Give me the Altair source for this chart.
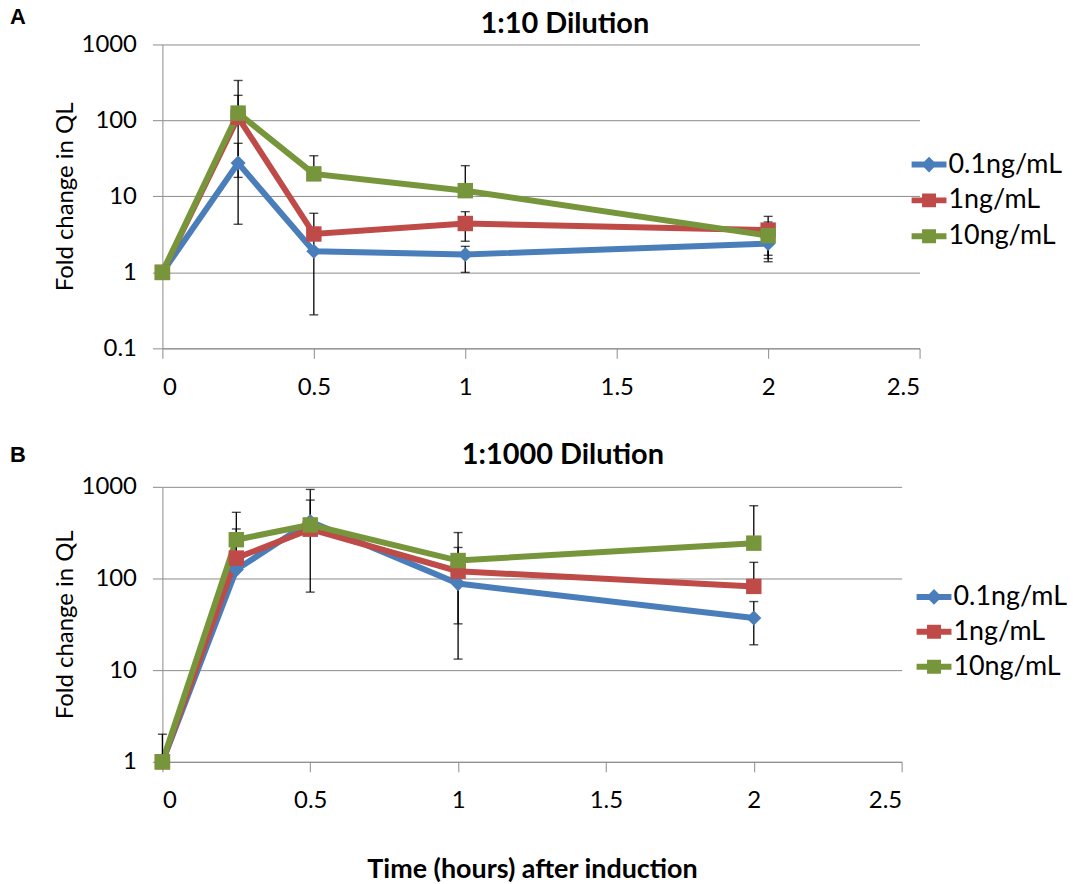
import altair as alt
import pandas as pd

series = ["0.1ng/mL", "1ng/mL", "10ng/mL"]
colors = ["#4A7EBB", "#BE4B48", "#77963C"]
times = [0, 0.25, 0.5, 1, 2]

# Panel A: 1:10 dilution
a_blue = [1, 27.5, 1.9, 1.72, 2.4]
a_red = [1, 110, 3.2, 4.4, 3.6]
a_green = [1, 125, 19.8, 11.9, 3.05]
a_blue_hi = [None, 50, 3.5, 2.2, 3.4]
a_blue_lo = [None, 4.3, 0.276, 1.0, 1.38]
a_red_hi = [None, 214, 6.0, 6.3, 5.46]
a_red_lo = [None, 17.8, None, 2.57, 1.68]
a_green_hi = [None, 336, 34.3, 25.4, 4.6]
a_green_lo = [None, None, None, None, 1.52]

# Panel B: 1:1000 dilution
b_blue = [1, 125, 418, 88, 37]
b_red = [1, 167, 345, 120, 82]
b_green = [1, 265, 384, 157, 243]
b_blue_hi = [None, None, 937, 163, 56]
b_blue_lo = [None, None, None, 13.2, 18.9]
b_red_hi = [None, 347, None, 218, 150]
b_red_lo = [None, None, None, 32, None]
b_green_hi = [2.0, 527, 717, 317, 622]
b_green_lo = [None, None, 71, None, None]

y_ticks_a = [0.1, 1, 10, 100, 1000]
y_ticks_b = [1, 10, 100, 1000]
x_ticks = [0, 0.5, 1, 1.5, 2, 2.5]

# legend symbols: a line stub with the series marker
legend_paths = [
    "M-1,-0.17H1V0.17H-1Z M0,-0.45L0.45,0L0,0.45L-0.45,0Z",
    "M-1,-0.17H1V0.17H-1Z M-0.4,-0.4H0.4V0.4H-0.4Z",
    "M-1,-0.17H1V0.17H-1Z M-0.4,-0.4H0.4V0.4H-0.4Z",
]


def build(vals, his, los):
    rows = []
    for s, v, h, l in zip(series, vals, his, los):
        for t, vv, hh, ll in zip(times, v, h, l):
            rows.append({
                "series": s, "t": t, "v": vv,
                "hi": hh, "lo": ll,
                "top": hh if hh is not None else vv,
                "bot": ll if ll is not None else vv,
            })
    return pd.DataFrame(rows)


df_a = build([a_blue, a_red, a_green], [a_blue_hi, a_red_hi, a_green_hi],
             [a_blue_lo, a_red_lo, a_green_lo])
df_b = build([b_blue, b_red, b_green], [b_blue_hi, b_red_hi, b_green_hi],
             [b_blue_lo, b_red_lo, b_green_lo])

FONT = "Lato"
GRID = "#8C8C8C"


def panel(df, ydomain, yticks, title, letter, width, height, xtitle,
          legend_x, legend_y, row_pad, title_xy, letter_xy):
    x = alt.X("t:Q", scale=alt.Scale(domain=[0, 2.5], nice=False, zero=False),
              axis=alt.Axis(values=x_ticks, format="~g", grid=False,
                            title=xtitle if xtitle else None,
                            titlePadding=44, titleFontWeight="bold",
                            titleFontSize=27, labelPadding=17))
    yax = alt.Axis(values=yticks, format="~g", grid=True,
                   title="Fold change in QL", titlePadding=4,
                   titleFontWeight="normal", labelPadding=16)
    ysc = alt.Scale(type="log", domain=ydomain, nice=False)
    y = alt.Y("v:Q", scale=ysc, axis=yax)
    base = alt.Chart(df)

    leg_opts = dict(title=None, orient="none", legendX=legend_x, legendY=legend_y,
                    symbolSize=1225, symbolStrokeWidth=0, labelFont=FONT,
                    labelFontSize=27, labelColor="black", labelOffset=2,
                    rowPadding=row_pad, symbolOpacity=1)
    color = alt.Color("series:N", scale=alt.Scale(domain=series, range=colors),
                      legend=alt.Legend(**leg_opts))
    shape = alt.Shape("series:N", scale=alt.Scale(domain=series, range=legend_paths),
                      legend=alt.Legend(**leg_opts))

    lines = base.mark_line(strokeWidth=6).encode(x=x, y=y, color=color, detail="series:N")
    rules = base.mark_rule(color="black", strokeWidth=1.3).encode(
        x=x, y=alt.Y("bot:Q", scale=ysc, axis=yax), y2="top:Q")
    cap_hi = base.transform_filter("isValid(datum.hi)").mark_tick(
        orient="horizontal", size=9, thickness=1.4, color="black").encode(
        x=x, y=alt.Y("hi:Q", scale=ysc, axis=yax))
    cap_lo = base.transform_filter("isValid(datum.lo)").mark_tick(
        orient="horizontal", size=9, thickness=1.4, color="black").encode(
        x=x, y=alt.Y("lo:Q", scale=ysc, axis=yax))
    pts_d = base.transform_filter(alt.datum.series == series[0]).mark_point(
        shape="diamond", filled=True, size=230, opacity=1).encode(x=x, y=y, color=color)
    pts_s = base.transform_filter(alt.datum.series != series[0]).mark_point(
        shape="square", filled=True, size=240, opacity=1).encode(x=x, y=y, color=color)
    # invisible layer that only supplies the legend symbols (line stub + marker)
    leg = base.mark_point(filled=True, opacity=0).encode(
        x=x, y=y, color=color, shape=shape)
    lab = alt.Chart(pd.DataFrame({"lbl": [letter]})).mark_text(
        font="Liberation Sans", fontWeight="bold", fontSize=22, color="black",
        align="left", baseline="middle").encode(
        x=alt.value(letter_xy[0]), y=alt.value(letter_xy[1]), text="lbl:N")
    ttl = alt.Chart(pd.DataFrame({"ttl": [title]})).mark_text(
        font=FONT, fontWeight="bold", fontSize=29, color="black",
        align="center", baseline="middle").encode(
        x=alt.value(title_xy[0]), y=alt.value(title_xy[1]), text="ttl:N")

    return alt.layer(leg, lines, rules, cap_hi, cap_lo, pts_d, pts_s, lab, ttl).properties(
        width=width, height=height)


pa = panel(df_a, [0.1, 1000], y_ticks_a, "1:10 Dilution", "A", 760, 305, None,
           752, 103, 5, (404, -21), (-153, -28))
pb = panel(df_b, [1, 1000], y_ticks_b, "1:1000 Dilution", "B", 742, 276,
           "Time (hours) after induction", 757, 93, 4, (402, -32), (-153, -32))

chart = alt.vconcat(pa, pb, spacing=42).resolve_scale(
    color="independent", shape="independent"
).resolve_legend(
    color="independent", shape="independent"
).properties(
    padding={"left": 10, "top": 4, "right": 5, "bottom": 0},
    background="white",
).configure_view(stroke=None).configure_axis(
    labelFont=FONT, labelFontSize=24, labelColor="black",
    titleFont=FONT, titleFontSize=24, titleColor="black",
    gridColor=GRID, gridWidth=1, domainColor=GRID, domainWidth=1,
    tickColor=GRID, tickSize=10, tickWidth=1,
).configure_concat(spacing=42)

chart.save("out.html", embed_options={"renderer": "svg", "actions": False})
